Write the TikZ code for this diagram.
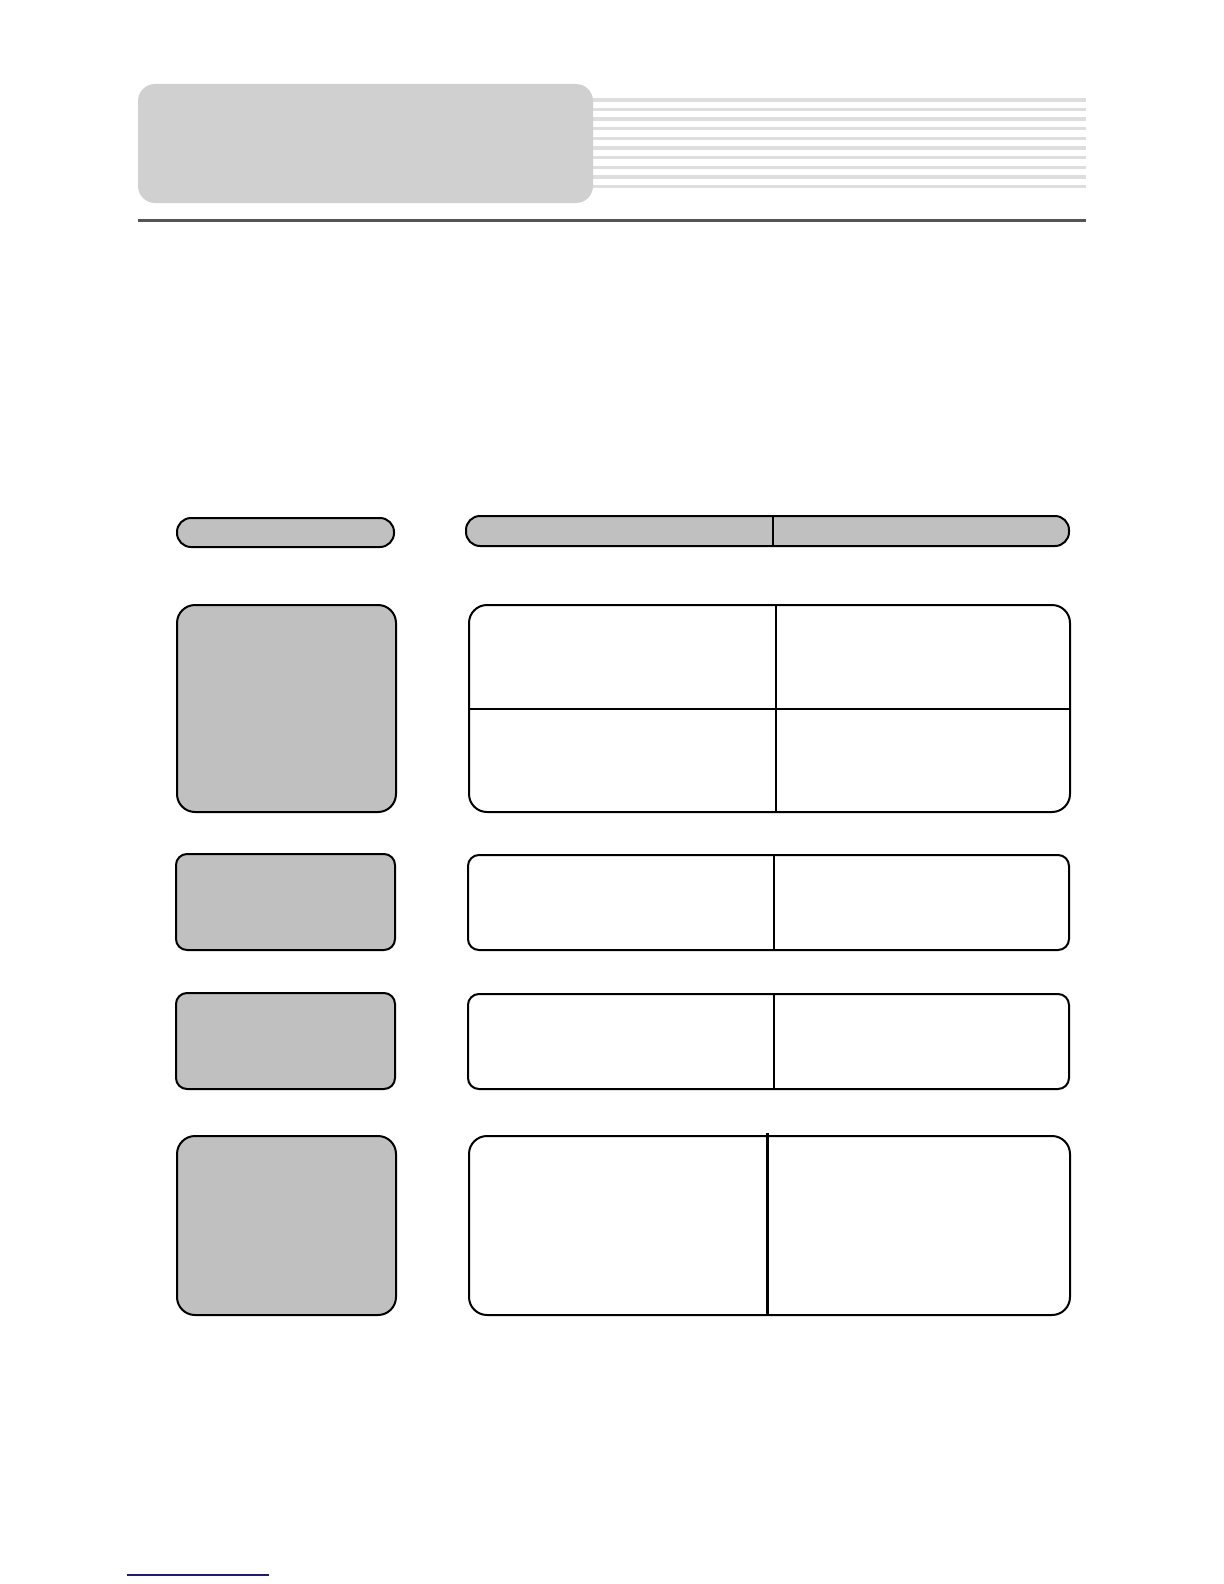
\documentclass[tikz,border=0pt]{standalone}
\definecolor{headfill}{RGB}{208,208,208}
\definecolor{stripe}{RGB}{222,222,222}
\definecolor{rulegray}{RGB}{85,85,85}
\definecolor{boxgray}{RGB}{192,192,192}
\definecolor{navyline}{RGB}{26,26,128}
\tikzset{
  graybox/.style={draw=black, line width=1pt, fill=boxgray},
  whitebox/.style={draw=black, line width=1pt, fill=white},
  divider/.style={draw=black, line width=1pt},
  stripeline/.style={draw=stripe, line width=1.7pt},
}
\begin{document}
\begin{tikzpicture}[x=0.5pt, y=-0.5pt]
\useasboundingbox (0,0) rectangle (1224,1584);
\fill[white] (0,0) rectangle (1224,1584);
% header stripes
\foreach \yy in {100,109.6,119.2,128.8,138.4,148,157.6,167.2,176.8,186.4}
  \draw[stripeline] (585,\yy) -- (1086,\yy);
% header box
\fill[headfill, rounded corners=8.5pt] (138,84) rectangle (593,203);
% header rule
\draw[draw=rulegray, line width=1.6pt] (138,220.5) -- (1086,220.5);
% row 0: pills
\draw[graybox, rounded corners=7pt] (177,518) rectangle (394,547);
\draw[graybox, rounded corners=7pt] (466,516) rectangle (1069,546);
\draw[divider] (773,516) -- (773,546);
% row 1
\draw[graybox, rounded corners=9pt] (177,605) rectangle (396,812);
\draw[whitebox, rounded corners=9pt] (469,605) rectangle (1070,812);
\draw[divider] (469,708.5) -- (1070,708.5);
\draw[draw=black, line width=0.7pt] (776,605) -- (776,812);
% row 2
\draw[graybox, rounded corners=5.5pt] (176,854) rectangle (395,950);
\draw[whitebox, rounded corners=5.5pt] (468,855) rectangle (1069,950);
\draw[divider] (774,855) -- (774,950);
% row 3
\draw[graybox, rounded corners=5.5pt] (176,993) rectangle (395,1089);
\draw[whitebox, rounded corners=5.5pt] (468,994) rectangle (1069,1089);
\draw[divider] (774,993) -- (774,1089);
% row 4
\draw[graybox, rounded corners=9pt] (177,1136) rectangle (396,1315);
\draw[whitebox, rounded corners=9pt] (469,1136) rectangle (1070,1315);
\draw[draw=black, line width=1.5pt] (767.5,1133) -- (767.5,1315);
% bottom blue line
\draw[draw=navyline, line width=0.8pt] (127,1575) -- (269,1575);
\end{tikzpicture}
\end{document}
